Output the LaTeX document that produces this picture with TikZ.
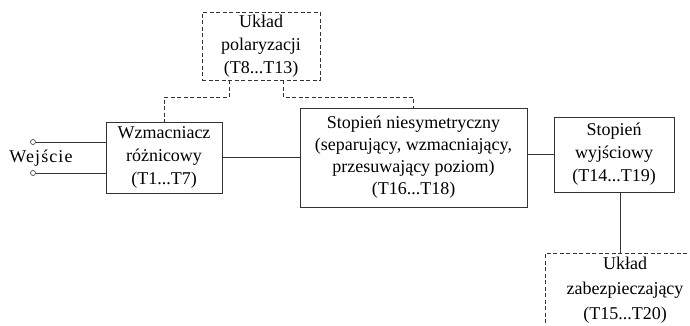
\documentclass[tikz,border=0pt]{standalone}
\usepackage{fontspec}
\setmainfont{Liberation Serif}
\begin{document}
\begin{tikzpicture}[x=1pt,y=1pt,
  every node/.style={font=\fontsize{18}{23}\selectfont, text=black},
  blk/.style={draw=black!80, line width=0.8pt, align=center, inner sep=0pt, fill=white},
  dashblk/.style={blk, dash pattern=on 4pt off 2.5pt},
  conn/.style={draw=black!80, line width=0.8pt},
  dconn/.style={conn, dash pattern=on 4pt off 2.5pt},
  term/.style={circle, draw=black!70, line width=0.7pt, inner sep=0pt, minimum size=5pt, fill=white}]
\clip (0,0) rectangle (690,-325);
\fill[white] (0,0) rectangle (690,-325);

\node[blk, minimum width=116pt, minimum height=71pt] (w) at (164,-157.5)
  {Wzmacniacz\\różnicowy\\(T1...T7)};
\node[blk, minimum width=227pt, minimum height=99pt, font=\fontsize{18}{22}\selectfont] (s) at (413.5,-157.5)
  {Stopień niesymetryczny\\(separujący, wzmacniający,\\przesuwający poziom)\\(T16...T18)};
\node[blk, minimum width=120pt, minimum height=75pt] (o) at (614,-154.5)
  {Stopień\\wyjściowy\\(T14...T19)};
\node[dashblk, minimum width=118pt, minimum height=68pt] (p) at (261,-46)
  {Układ\\polaryzacji\\(T8...T13)};

% protection box (cut by the picture edge)
\coordinate (zt) at (545,-253);
\draw[dconn] (700,-253) -- (zt) -- (545,-340);
\node[align=center, font=\fontsize{18}{25}\selectfont] (z) at (625,-290)
  {Układ\\zabezpieczający\\(T15...T20)};

% inputs
\node[term] (i1) at (33,-142) {};
\node[term] (i2) at (33,-173) {};
\node[font=\fontsize{18}{23}\selectfont\addfontfeature{LetterSpace=6}] (we) at (41,-158) {Wejście};
\draw[conn] (i1.east) -- (i1 -| w.west);
\draw[conn] (i2.east) -- (i2 -| w.west);

% signal path
\draw[conn] (w.east) -- (s.west);
\draw[conn] (s.east |- o.west) -- (o.west);
\draw[conn] (o.south -| 620,0) -- (620,-253);

% bias connections
\draw[dconn] ([xshift=-32pt]p.south) -- ++(0,-17pt) -| (w.north);
\draw[dconn] ([xshift=22pt]p.south) -- ++(0,-17pt) -| (s.north);
\end{tikzpicture}
\end{document}
